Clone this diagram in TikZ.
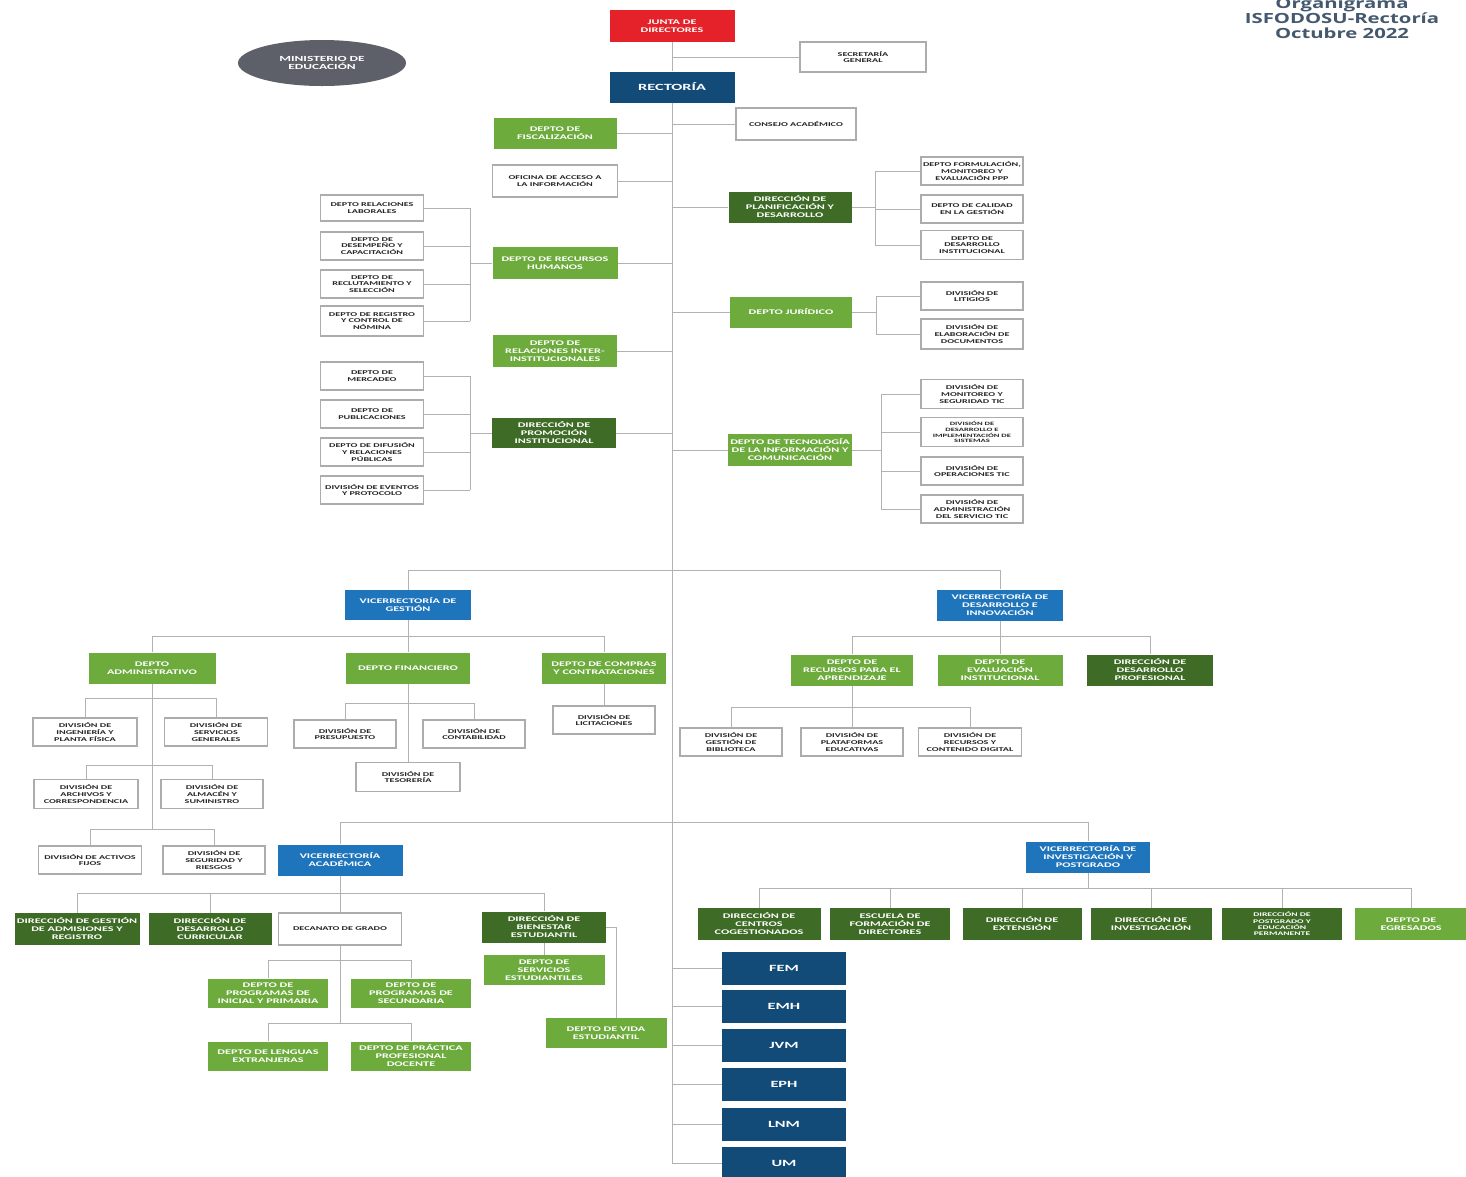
\documentclass[tikz,border=0pt]{standalone}
\usepackage{fontspec}
\setmainfont{Carlito}
\newfontfamily\bxf[FakeStretch=1.72, BoldFeatures={FakeStretch=1.72}]{Carlito}
\newfontfamily\ttlf[FakeStretch=1.45, BoldFeatures={FakeStretch=1.45}]{Open Sans}
\usetikzlibrary{shapes.geometric}
\definecolor{cgreen}{HTML}{6CAB3C}
\definecolor{cdgreen}{HTML}{3E6B25}
\definecolor{cvblue}{HTML}{1F75BC}
\definecolor{cnavy}{HTML}{124A78}
\definecolor{cred}{HTML}{E52229}
\definecolor{cgray}{HTML}{5D6068}
\definecolor{ctitle}{HTML}{44586E}
\begin{document}
\begin{tikzpicture}[x=1pt,y=-1pt,
 box/.style={rectangle, align=center, inner sep=0.5pt, font=\bxf\bfseries\fontsize{7.1}{8}\selectfont},
 sz/.style 2 args={minimum width=#1pt, minimum height=#2pt},
 grn/.style={box, fill=cgreen, text=white},
 dgrn/.style={box, fill=cdgreen, text=white},
 vblu/.style={box, fill=cvblue, text=white},
 navy/.style={box, fill=cnavy, text=white},
 redb/.style={box, fill=cred, text=white},
 wbox/.style={box, fill=white, draw=gray!65, line width=1.1pt, text=black!85, font=\bxf\bfseries\fontsize{5.9}{6.8}\selectfont},
 small/.style={font=\bxf\bfseries\fontsize{5.6}{6.4}\selectfont},
 wsmall/.style={font=\bxf\bfseries\fontsize{5}{5.9}\selectfont},
 ln/.style={draw=gray!60, line width=0.9pt}]
\fill[white] (0,0) rectangle (1466,1176);
\useasboundingbox (0,0) rectangle (1466,1176);

% title
\node[font=\ttlf\bfseries\fontsize{14}{15}\selectfont, text=ctitle, align=center] (title) at (1342,18) {Organigrama\\ISFODOSU-Rectoría\\Octubre 2022};

% trunk helpers
\coordinate (tk) at (672,0);
\coordinate (tend) at (672,1163);

% top
\node[redb, sz={125}{32}] (junta) at (672,26) {JUNTA DE\\DIRECTORES};
\node[ellipse, fill=cgray, minimum width=168pt, minimum height=46pt, text=white, align=center, inner sep=0pt, font=\bxf\bfseries\fontsize{7.8}{8.8}\selectfont] (min) at (322,63) {MINISTERIO DE\\EDUCACIÓN};
\node[wbox, sz={126}{30}] (sec) at (863,57) {SECRETARÍA\\GENERAL};
\node[navy, sz={125}{31}, font=\bxf\bfseries\fontsize{9.5}{10.5}\selectfont] (rect) at (672,87) {RECTORÍA};
\node[wbox, sz={120}{32}] (cons) at (796,124) {CONSEJO ACADÉMICO};
\node[grn, sz={123}{31}] (fisc) at (555,133) {DEPTO DE\\FISCALIZACIÓN};
\node[wbox, sz={125}{32}] (oai) at (555,181) {OFICINA DE ACCESO A\\LA INFORMACIÓN};

\draw[ln] (junta.south) -- (rect.north);
\draw[ln] (rect.south) -- (tend);
\draw[ln] (sec.west) -- (sec.west -| tk);
\draw[ln] (cons.west) -- (cons.west -| tk);
\draw[ln] (fisc.east) -- (fisc.east -| tk);
\draw[ln] (oai.east) -- (oai.east -| tk);

% RRHH
\node[grn, sz={125}{32}] (rrhh) at (555,263) {DEPTO DE RECURSOS\\HUMANOS};
\node[wbox, sz={103}{26}] (rl) at (372,208) {DEPTO RELACIONES\\LABORALES};
\node[wbox, sz={103}{28}] (dc) at (372,246) {DEPTO DE\\DESEMPEÑO Y\\CAPACITACIÓN};
\node[wbox, sz={103}{28}] (rs) at (372,284) {DEPTO DE\\RECLUTAMIENTO Y\\SELECCIÓN};
\node[wbox, sz={103}{30}] (rn) at (372,321) {DEPTO DE REGISTRO\\Y CONTROL DE\\NÓMINA};
\coordinate (b1) at (470,0);
\draw[ln] (rrhh.east) -- (rrhh.east -| tk);
\draw[ln] (rrhh.west) -- (rrhh.west -| b1);
\draw[ln] (rl.east -| b1) -- (rn.east -| b1);
\foreach \n in {rl,dc,rs,rn} \draw[ln] (\n.east) -- (\n.east -| b1);

\node[grn, sz={124}{32}] (rii) at (555,351) {DEPTO DE\\RELACIONES INTER-\\INSTITUCIONALES};
\draw[ln] (rii.east) -- (rii.east -| tk);

% Promocion
\node[dgrn, sz={124}{30}] (dpi) at (554,433) {DIRECCIÓN DE\\PROMOCIÓN\\INSTITUCIONAL};
\node[wbox, sz={103}{28}] (mer) at (372,376) {DEPTO DE\\MERCADEO};
\node[wbox, sz={103}{28}] (pub) at (372,414) {DEPTO DE\\PUBLICACIONES};
\node[wbox, sz={103}{28}] (dif) at (372,452) {DEPTO DE DIFUSIÓN\\Y RELACIONES\\PÚBLICAS};
\node[wbox, sz={103}{28}] (evt) at (372,490) {DIVISIÓN DE EVENTOS\\Y PROTOCOLO};
\draw[ln] (dpi.east) -- (dpi.east -| tk);
\draw[ln] (dpi.west) -- (dpi.west -| b1);
\draw[ln] (mer.east -| b1) -- (evt.east -| b1);
\foreach \n in {mer,pub,dif,evt} \draw[ln] (\n.east) -- (\n.east -| b1);

% Planificacion
\node[dgrn, sz={123}{31}] (dpd) at (790,207) {DIRECCIÓN DE\\PLANIFICACIÓN Y\\DESARROLLO};
\node[wbox, sz={102}{28}] (fme) at (972,171) {DEPTO FORMULACIÓN,\\MONITOREO Y\\EVALUACIÓN PPP};
\node[wbox, sz={102}{28}] (cal) at (972,209) {DEPTO DE CALIDAD\\EN LA GESTIÓN};
\node[wbox, sz={102}{29}] (din) at (972,245) {DEPTO DE\\DESARROLLO\\INSTITUCIONAL};
\coordinate (b2) at (875,0);
\draw[ln] (dpd.west) -- (dpd.west -| tk);
\draw[ln] (dpd.east) -- (dpd.east -| b2);
\draw[ln] (fme.west -| b2) -- (din.west -| b2);
\foreach \n in {fme,cal,din} \draw[ln] (\n.west) -- (\n.west -| b2);

% Juridico
\node[grn, sz={122}{31}] (jur) at (791,312) {DEPTO JURÍDICO};
\node[wbox, sz={102}{28}] (lit) at (972,296) {DIVISIÓN DE\\LITIGIOS};
\node[wbox, sz={102}{30}] (ela) at (972,334) {DIVISIÓN DE\\ELABORACIÓN DE\\DOCUMENTOS};
\coordinate (b3) at (876,0);
\draw[ln] (jur.west) -- (jur.west -| tk);
\draw[ln] (jur.east) -- (jur.east -| b3);
\draw[ln] (lit.west -| b3) -- (ela.west -| b3);
\foreach \n in {lit,ela} \draw[ln] (\n.west) -- (\n.west -| b3);

% TIC
\node[grn, sz={124}{32}] (tic) at (790,450) {DEPTO DE TECNOLOGÍA\\DE LA INFORMACIÓN Y\\COMUNICACIÓN};
\node[wbox, sz={102}{29}] (mst) at (972,394) {DIVISIÓN DE\\MONITOREO Y\\SEGURIDAD TIC};
\node[wbox, wsmall, sz={102}{29}] (dis) at (972,432) {DIVISIÓN DE\\DESARROLLO E\\IMPLEMENTACIÓN DE\\SISTEMAS};
\node[wbox, sz={102}{28}] (opt) at (972,471) {DIVISIÓN DE\\OPERACIONES TIC};
\node[wbox, sz={102}{28}] (ast) at (972,509) {DIVISIÓN DE\\ADMINISTRACIÓN\\DEL SERVICIO TIC};
\coordinate (b4) at (881,0);
\draw[ln] (tic.west) -- (tic.west -| tk);
\draw[ln] (tic.east) -- (tic.east -| b4);
\draw[ln] (mst.west -| b4) -- (ast.west -| b4);
\foreach \n in {mst,dis,opt,ast} \draw[ln] (\n.west) -- (\n.west -| b4);

% Vicerrectorias de gestion y desarrollo
\node[vblu, sz={126}{30}] (vg) at (408,605) {VICERRECTORÍA DE\\GESTIÓN};
\node[vblu, sz={126}{31}] (vdi) at (1000,605) {VICERRECTORÍA DE\\DESARROLLO E\\INNOVACIÓN};
\coordinate (L1) at (0,570);
\draw[ln] (vg.north) -- (vg.north |- L1) -- (vdi.north |- L1) -- (vdi.north);

\node[grn, sz={127}{31}] (adm) at (152,668) {DEPTO\\ADMINISTRATIVO};
\node[grn, sz={124}{31}] (fin) at (408,668) {DEPTO FINANCIERO};
\node[grn, sz={124}{31}] (cmp) at (604,668) {DEPTO DE COMPRAS\\Y CONTRATACIONES};
\coordinate (L2) at (0,636);
\draw[ln] (adm.north) -- (adm.north |- L2) -- (cmp.north |- L2) -- (cmp.north);
\draw[ln] (vg.south) -- (fin.north);

\node[wbox, sz={102}{28}] (pres) at (345,734) {DIVISIÓN DE\\PRESUPUESTO};
\node[wbox, sz={102}{28}] (cont) at (474,734) {DIVISIÓN DE\\CONTABILIDAD};
\node[wbox, sz={104}{29}] (tes) at (408,777) {DIVISIÓN DE\\TESORERÍA};
\coordinate (L3) at (0,703);
\draw[ln] (pres.north) -- (pres.north |- L3) -- (cont.north |- L3) -- (cont.north);
\draw[ln] (fin.south) -- (tes.north);
\node[wbox, sz={102}{28}] (lic) at (604,720) {DIVISIÓN DE\\LICITACIONES};
\draw[ln] (cmp.south) -- (lic.north);

\node[wbox, sz={104}{28}] (ing) at (85,732) {DIVISIÓN DE\\INGENIERÍA Y\\PLANTA FÍSICA};
\node[wbox, sz={103}{28}] (sgn) at (216,732) {DIVISIÓN DE\\SERVICIOS\\GENERALES};
\node[wbox, sz={104}{29}] (arc) at (86,794) {DIVISIÓN DE\\ARCHIVOS Y\\CORRESPONDENCIA};
\node[wbox, sz={102}{29}] (alm) at (212,794) {DIVISIÓN DE\\ALMACÉN Y\\SUMINISTRO};
\node[wbox, sz={103}{28}] (afj) at (90,860) {DIVISIÓN DE ACTIVOS\\FIJOS};
\node[wbox, sz={102}{28}] (seg) at (214,860) {DIVISIÓN DE\\SEGURIDAD Y\\RIESGOS};
\coordinate (A1) at (0,698);
\coordinate (A2) at (0,765);
\coordinate (A3) at (0,829);
\coordinate (Aend) at (152,829);
\draw[ln] (adm.south) -- (Aend);
\draw[ln] (ing.north) -- (ing.north |- A1) -- (sgn.north |- A1) -- (sgn.north);
\draw[ln] (arc.north) -- (arc.north |- A2) -- (alm.north |- A2) -- (alm.north);
\draw[ln] (afj.north) -- (afj.north |- A3) -- (seg.north |- A3) -- (seg.north);

\node[grn, sz={122}{31}] (rpa) at (852,670) {DEPTO DE\\RECURSOS PARA EL\\APRENDIZAJE};
\node[grn, sz={125}{31}] (eva) at (1000,670) {DEPTO DE\\EVALUACIÓN\\INSTITUCIONAL};
\node[dgrn, sz={126}{31}] (ddp) at (1150,670) {DIRECCIÓN DE\\DESARROLLO\\PROFESIONAL};
\draw[ln] (rpa.north) -- (rpa.north |- L2) -- (ddp.north |- L2) -- (ddp.north);
\draw[ln] (vdi.south) -- (eva.north);

\node[wbox, sz={102}{28}] (bib) at (731,742) {DIVISIÓN DE\\GESTIÓN DE\\BIBLIOTECA};
\node[wbox, sz={102}{28}] (pla) at (852,742) {DIVISIÓN DE\\PLATAFORMAS\\EDUCATIVAS};
\node[wbox, sz={103}{28}] (rcd) at (970,742) {DIVISIÓN DE\\RECURSOS Y\\CONTENIDO DIGITAL};
\coordinate (L5) at (0,707);
\draw[ln] (bib.north) -- (bib.north |- L5) -- (rcd.north |- L5) -- (rcd.north);
\draw[ln] (rpa.south) -- (pla.north);

% Vicerrectorias academica e investigacion
\node[vblu, sz={125}{31}] (va) at (340,860) {VICERRECTORÍA\\ACADÉMICA};
\node[vblu, sz={124}{31}] (vip) at (1088,857) {VICERRECTORÍA DE\\INVESTIGACIÓN Y\\POSTGRADO};
\coordinate (L6) at (0,822);
\draw[ln] (va.north) -- (va.north |- L6) -- (vip.north |- L6) -- (vip.north);

\node[dgrn, sz={125}{32}] (adm2) at (77,929) {DIRECCIÓN DE GESTIÓN\\DE ADMISIONES Y\\REGISTRO};
\node[dgrn, sz={123}{32}] (dcu) at (210,929) {DIRECCIÓN DE\\DESARROLLO\\CURRICULAR};
\node[wbox, sz={123}{32}] (dec) at (340,929) {DECANATO DE GRADO};
\node[dgrn, sz={124}{31}] (bie) at (544,927) {DIRECCIÓN DE\\BIENESTAR\\ESTUDIANTIL};
\coordinate (L7) at (0,893);
\draw[ln] (adm2.north) -- (adm2.north |- L7) -- (bie.north |- L7) -- (bie.north);
\draw[ln] (dcu.north) -- (dcu.north |- L7);
\draw[ln] (va.south) -- (dec.north);

\node[grn, sz={120}{29}] (ini) at (268,993) {DEPTO DE\\PROGRAMAS DE\\INICIAL Y PRIMARIA};
\node[grn, sz={120}{29}] (scd) at (411,993) {DEPTO DE\\PROGRAMAS DE\\SECUNDARIA};
\node[grn, sz={120}{29}] (len) at (268,1056) {DEPTO DE LENGUAS\\EXTRANJERAS};
\node[grn, sz={120}{29}] (pra) at (411,1056) {DEPTO DE PRÁCTICA\\PROFESIONAL\\DOCENTE};
\coordinate (D1) at (0,960);
\coordinate (D2) at (0,1023);
\coordinate (Dend) at (340,1023);
\draw[ln] (dec.south) -- (Dend);
\draw[ln] (ini.north) -- (ini.north |- D1) -- (scd.north |- D1) -- (scd.north);
\draw[ln] (len.north) -- (len.north |- D2) -- (pra.north |- D2) -- (pra.north);

\node[grn, sz={121}{30}] (ses) at (544,970) {DEPTO DE\\SERVICIOS\\ESTUDIANTILES};
\node[grn, sz={121}{30}] (vid) at (606,1033) {DEPTO DE VIDA\\ESTUDIANTIL};
\coordinate (Bx) at (616,0);
\draw[ln] (bie.south) -- (ses.north);
\draw[ln] (bie.east) -- (bie.east -| Bx) -- (vid.north -| Bx);

\node[dgrn, sz={123}{32}] (cen) at (759,924) {DIRECCIÓN DE\\CENTROS\\COGESTIONADOS};
\node[dgrn, sz={120}{32}] (efd) at (890,924) {ESCUELA DE\\FORMACIÓN DE\\DIRECTORES};
\node[dgrn, sz={119}{32}] (ext) at (1022,924) {DIRECCIÓN DE\\EXTENSIÓN};
\node[dgrn, sz={121}{32}] (inv) at (1151,924) {DIRECCIÓN DE\\INVESTIGACIÓN};
\node[dgrn, small, sz={120}{32}] (pos) at (1282,924) {DIRECCIÓN DE\\POSTGRADO Y\\EDUCACIÓN\\PERMANENTE};
\node[grn, sz={112}{32}] (egr) at (1411,924) {DEPTO DE\\EGRESADOS};
\coordinate (L8) at (0,888);
\draw[ln] (cen.north) -- (cen.north |- L8) -- (egr.north |- L8) -- (egr.north);
\draw[ln] (vip.south) -- (vip.south |- L8);
\foreach \n in {efd,ext,inv,pos} \draw[ln] (\n.north) -- (\n.north |- L8);

% recintos
\tikzset{rec/.style={navy, sz={124}{33}, font=\bxf\bfseries\fontsize{9.5}{10.5}\selectfont}}
\node[rec] (r1) at (784,968) {FEM};
\node[rec] (r2) at (784,1006) {EMH};
\node[rec] (r3) at (784,1045) {JVM};
\node[rec] (r4) at (784,1084) {EPH};
\node[rec] (r5) at (784,1124) {LNM};
\node[rec] (r6) at (784,1163) {UM};
\foreach \n in {r1,r2,r3,r4,r5,r6} \draw[ln] (\n.west) -- (\n.west -| tk);
\end{tikzpicture}
\end{document}
